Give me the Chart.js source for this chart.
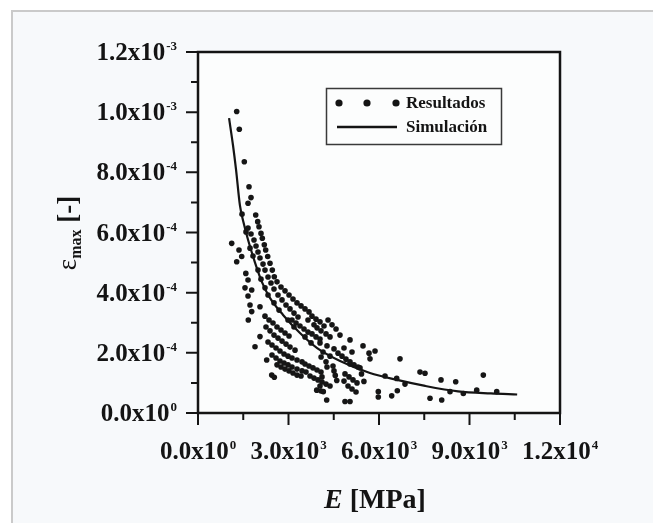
<!DOCTYPE html>
<html>
<head>
<meta charset="utf-8">
<script src="https://cdn.jsdelivr.net/npm/chart.js@4"></script>
<style>
html, body { margin: 0; padding: 0; background: #fff; }
#caja { width: 653px; height: 523px; }
</style>
</head>
<body>
<div id="caja"><canvas id="grafica" width="653" height="523"></canvas></div>
<script>
// puntos medidos: [E (MPa), deformacion maxima]
const resultados = [
	// aislados arriba
	[1283,10.02e-4],[1369,9.43e-4],[1535,8.35e-4],[1691,7.52e-4],[1757,7.16e-4],[1658,6.97e-4],
	// aislados a la izquierda
	[1117,5.64e-4],[1359,5.42e-4],[1283,5.03e-4],[1449,5.20e-4],[1585,4.64e-4],[1658,4.42e-4],
	[1558,4.16e-4],[1780,4.09e-4],[1658,3.89e-4],[1724,3.59e-4],[1780,3.37e-4],[2055,3.53e-4],
	[1667,3.09e-4],[2055,2.54e-4],[1890,2.20e-4],[2277,1.76e-4],[2443,1.26e-4],[2529,1.19e-4],
	// junto a la curva
	[1459,6.61e-4],[1591,6.02e-4],[1724,5.48e-4],[1823,5.22e-4],[1989,4.75e-4],[2088,4.45e-4],
	[2221,4.16e-4],[2321,3.92e-4],[2519,3.66e-4],[2685,3.42e-4],[2984,3.09e-4],[3182,2.86e-4],
	[3547,2.53e-4],[3746,2.33e-4],[4144,2.03e-4],[4376,1.89e-4],[5039,1.63e-4],[5370,1.50e-4],
	[6199,1.23e-4],[6587,1.15e-4],[6862,0.96e-4],[8354,0.71e-4],[8795,0.65e-4],[9239,0.76e-4],[9902,0.71e-4],
	// banda superior
	[1913,6.58e-4],[1979,6.36e-4],[2022,6.19e-4],[2088,5.97e-4],[2132,5.81e-4],[2198,5.59e-4],
	[2244,5.42e-4],[2311,5.20e-4],[2387,4.98e-4],[2463,4.75e-4],[2529,4.53e-4],[2619,4.36e-4],
	[2751,4.19e-4],[2884,4.06e-4],[3017,3.92e-4],[3149,3.79e-4],[3282,3.66e-4],[3415,3.56e-4],
	[3547,3.46e-4],[3680,3.36e-4],
	// banda intermedia
	[1658,6.15e-4],[1757,5.95e-4],[1856,5.75e-4],[1923,5.55e-4],[1989,5.35e-4],[2055,5.15e-4],
	[2155,4.95e-4],[2221,4.75e-4],[2321,4.52e-4],[2420,4.32e-4],[2519,4.12e-4],[2652,3.92e-4],
	[2785,3.76e-4],[2917,3.59e-4],[3050,3.46e-4],[3182,3.32e-4],[3315,3.19e-4],
	// grupo 3e-4
	[3779,3.22e-4],[3912,3.12e-4],[4044,3.03e-4],[4177,2.89e-4],[3945,2.83e-4],[4077,2.73e-4],
	[4243,2.63e-4],[4376,2.53e-4],[3845,2.93e-4],[3646,3.09e-4],
	[4707,2.59e-4],[5039,2.43e-4],[5470,2.23e-4],[5868,2.06e-4],[5669,1.99e-4],[5702,1.80e-4],
	[6696,1.80e-4],[7359,1.36e-4],[4840,2.16e-4],[5105,2.03e-4],
	// rayas bajo la curva
	[2221,3.22e-4],[2354,3.09e-4],[2486,2.99e-4],[2619,2.86e-4],[2751,2.76e-4],[2884,2.66e-4],[3017,2.56e-4],
	[2254,2.86e-4],[2387,2.73e-4],[2519,2.59e-4],[2652,2.49e-4],[2785,2.39e-4],[2917,2.29e-4],[3050,2.19e-4],[3216,2.09e-4],
	[2321,2.36e-4],[2453,2.26e-4],[2586,2.16e-4],[2718,2.06e-4],[2851,1.96e-4],[2984,1.89e-4],[3116,1.83e-4],[3282,1.76e-4],[3448,1.70e-4],
	[2453,1.93e-4],[2586,1.83e-4],[2718,1.73e-4],[2851,1.66e-4],[2984,1.60e-4],[3116,1.53e-4],[3282,1.46e-4],[3448,1.40e-4],[3580,1.36e-4],
	[2619,1.60e-4],[2751,1.53e-4],[2884,1.46e-4],[3017,1.40e-4],[3149,1.33e-4],[3282,1.26e-4],[3415,1.23e-4],
	[3116,3.09e-4],[3249,2.99e-4],[3381,2.89e-4],[3514,2.79e-4],[3646,2.69e-4],[3779,2.63e-4],[3912,2.53e-4],[4044,2.46e-4],
	[3547,1.63e-4],[3680,1.56e-4],[3812,1.50e-4],[3945,1.43e-4],[4077,1.36e-4],
	[3713,1.23e-4],[3845,1.16e-4],[3978,1.10e-4],[4111,1.03e-4],[4243,0.96e-4],[4376,0.90e-4],
	// zona central
	[4641,1.99e-4],[4774,1.89e-4],[4906,1.79e-4],[5039,1.70e-4],[5171,1.60e-4],[5304,1.53e-4],
	[4873,1.30e-4],[5006,1.20e-4],[5138,1.10e-4],[5271,1.00e-4],[4973,0.90e-4],[5105,0.80e-4],[5238,0.70e-4],[4840,1.06e-4],
	[4243,1.70e-4],[4276,1.53e-4],[4475,1.56e-4],[4508,1.40e-4],[4044,0.90e-4],[4077,0.73e-4],
	[4442,2.93e-4],[4575,2.79e-4],[4310,3.09e-4],[4044,2.33e-4],[4276,2.23e-4],[4508,2.13e-4],
	[4080,1.86e-4],[4110,1.20e-4],[4550,1.25e-4],[4600,1.08e-4],[5420,1.30e-4],[5500,1.05e-4],
	// aislados abajo
	[3935,0.76e-4],[4154,0.71e-4],[4266,0.43e-4],[4873,0.38e-4],[5039,0.38e-4],[5977,0.71e-4],
	[5977,0.53e-4],[6421,0.57e-4],[6607,0.74e-4],[7691,0.49e-4],[8079,0.43e-4],[8055,1.10e-4],
	[8543,1.04e-4],[9458,1.26e-4],[7525,1.32e-4]
];

// curva de simulacion
const simE   = [1030, 1160, 1260, 1390, 1530, 1690, 1890, 2120, 2390, 2820, 3380, 3950, 4710, 5700, 6600, 7530, 8620, 9710, 10580];
const simEps = [9.8e-4, 8.9e-4, 8.1e-4, 6.9e-4, 6.25e-4, 5.65e-4, 5.0e-4, 4.35e-4, 3.82e-4, 3.26e-4, 2.66e-4, 2.16e-4, 1.73e-4, 1.33e-4, 1.10e-4, 0.90e-4, 0.72e-4, 0.65e-4, 0.615e-4];

// marcas de los ejes
const xMayor = [0, 3000, 6000, 9000, 12000];
const xMenor = [1500, 4500, 7500, 10500];
const xMant  = ['0.0', '3.0', '6.0', '9.0', '1.2'];
const xExp   = ['0', '3', '3', '3', '4'];
const yMayor = [0, 2e-4, 4e-4, 6e-4, 8e-4, 1.0e-3, 1.2e-3];
const yMenor = [1e-4, 3e-4, 5e-4, 7e-4, 9e-4, 1.1e-3];
const yMant  = ['0.0', '2.0', '4.0', '6.0', '8.0', '1.0', '1.2'];
const yExp   = ['0', '-4', '-4', '-4', '-4', '-3', '-3'];

const serif = '"Liberation Serif", "Times New Roman", serif';

function etiqueta(c, mant, exp, x, y, alinear){
	c.font = '700 25px ' + serif;
	let wb = c.measureText(mant + 'x10').width;
	c.font = '700 13px ' + serif;
	let we = c.measureText(exp).width;
	let total = wb + 1 + we;
	let x0 = alinear == 'center' ? x - total / 2 : x - total;
	c.textAlign = 'left';
	c.textBaseline = 'alphabetic';
	c.font = '700 25px ' + serif;
	c.fillText(mant + 'x10', x0, y);
	c.font = '700 13px ' + serif;
	c.fillText(exp, x0 + wb + 1, y - 10);
}

const dibujo = {
	id: 'dibujo',
	beforeDraw(chart){
		let c = chart.ctx, a = chart.chartArea;
		c.save();
		c.fillStyle = '#ffffff';
		c.fillRect(0, 0, 653, 523);
		c.fillStyle = '#f7f9fb';
		c.fillRect(12, 11, 641, 512);
		c.strokeStyle = '#cacaca';
		c.lineWidth = 2;
		c.beginPath();
		c.moveTo(12, 523); c.lineTo(12, 11); c.lineTo(653, 11);
		c.stroke();
		c.fillStyle = '#fcfdfd';
		c.fillRect(a.left, a.top, a.width, a.height);
		c.restore();
	},
	afterDraw(chart){
		let c = chart.ctx, a = chart.chartArea;
		let xs = chart.scales.x, ys = chart.scales.y;
		c.save();
		c.fillStyle = '#141414';
		c.strokeStyle = '#141414';

		// marco
		c.lineWidth = 2.5;
		c.strokeRect(a.left, a.top, a.width, a.height);

		// marcas
		c.lineWidth = 2;
		c.beginPath();
		xMayor.forEach(function(v){ let p = xs.getPixelForValue(v); c.moveTo(p, a.bottom); c.lineTo(p, a.bottom + 12); });
		xMenor.forEach(function(v){ let p = xs.getPixelForValue(v); c.moveTo(p, a.bottom); c.lineTo(p, a.bottom + 7); });
		yMayor.forEach(function(v){ let p = ys.getPixelForValue(v); c.moveTo(a.left, p); c.lineTo(a.left - 12, p); });
		yMenor.forEach(function(v){ let p = ys.getPixelForValue(v); c.moveTo(a.left, p); c.lineTo(a.left - 7, p); });
		c.stroke();

		// etiquetas
		xMayor.forEach(function(v, i){ etiqueta(c, xMant[i], xExp[i], xs.getPixelForValue(v), a.bottom + 46, 'center'); });
		yMayor.forEach(function(v, i){ etiqueta(c, yMant[i], yExp[i], a.left - 21, ys.getPixelForValue(v) + 8, 'right'); });

		// titulo eje x
		c.font = 'italic 700 28px ' + serif;
		let wE = c.measureText('E').width;
		c.font = '700 28px ' + serif;
		let wR = c.measureText(' [MPa]').width;
		let x0 = 375 - (wE + wR) / 2;
		c.textAlign = 'left';
		c.font = 'italic 700 28px ' + serif;
		c.fillText('E', x0, 508);
		c.font = '700 28px ' + serif;
		c.fillText(' [MPa]', x0 + wE, 508);

		// titulo eje y
		c.save();
		c.translate(76, 233);
		c.rotate(-Math.PI / 2);
		c.font = '400 27px ' + serif;
		let w1 = c.measureText('\u03b5').width;
		c.font = '700 16px ' + serif;
		let w2 = c.measureText('max').width;
		c.font = '700 27px ' + serif;
		let w3 = c.measureText(' [-]').width;
		let s = -(w1 + w2 + w3) / 2;
		c.font = '400 27px ' + serif;
		c.fillText('\u03b5', s, 0);
		c.font = '700 16px ' + serif;
		c.fillText('max', s + w1, 5);
		c.font = '700 27px ' + serif;
		c.fillText(' [-]', s + w1 + w2, 0);
		c.restore();

		// leyenda
		c.lineWidth = 1.5;
		c.strokeStyle = '#3a3a3a';
		c.strokeRect(326.5, 88.5, 175, 56);
		c.fillStyle = '#141414';
		[339, 367, 396].forEach(function(px){
			c.beginPath(); c.arc(px, 103, 3.6, 0, Math.PI * 2); c.fill();
		});
		c.strokeStyle = '#141414';
		c.lineWidth = 2.5;
		c.beginPath(); c.moveTo(337, 127); c.lineTo(397, 127); c.stroke();
		c.font = '700 17px ' + serif;
		c.textBaseline = 'middle';
		c.fillText(chart.data.datasets[0].label, 406, 104);
		c.fillText(chart.data.datasets[1].label, 406, 128);
		c.restore();
	}
};

new Chart(document.getElementById('grafica'), {
	type: 'scatter',
	data: {
		datasets: [
			{
				label: 'Resultados',
				data: resultados.map(function(p){ return { x: p[0], y: p[1] }; }),
				pointRadius: 2.8,
				pointBorderWidth: 0,
				pointBackgroundColor: '#161616',
				order: 2
			},
			{
				label: 'Simulación',
				type: 'line',
				data: simE.map(function(e, i){ return { x: e, y: simEps[i] }; }),
				borderColor: '#141414',
				borderWidth: 2.2,
				pointRadius: 0,
				fill: false,
				cubicInterpolationMode: 'monotone',
				order: 1
			}
		]
	},
	options: {
		responsive: false,
		animation: false,
		devicePixelRatio: 1,
		layout: { padding: { left: 0, top: 52, right: 93, bottom: 0 } },
		plugins: { legend: { display: false }, tooltip: { enabled: false } },
		scales: {
			x: {
				type: 'linear', min: 0, max: 12000,
				ticks: { display: false }, grid: { display: false }, border: { display: false },
				afterFit: function(s){ s.height = 110; }
			},
			y: {
				type: 'linear', min: 0, max: 0.0012,
				ticks: { display: false }, grid: { display: false }, border: { display: false },
				afterFit: function(s){ s.width = 198; }
			}
		}
	},
	plugins: [dibujo]
});
</script>
</body>
</html>
